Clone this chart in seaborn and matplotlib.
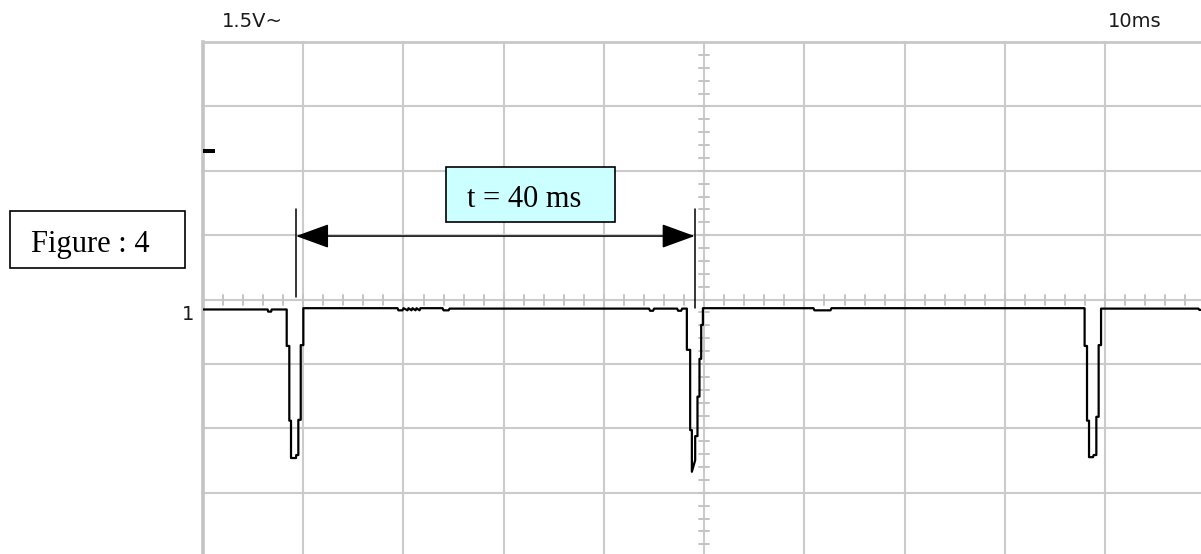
import numpy as np
import matplotlib
matplotlib.use("Agg")
import matplotlib.pyplot as plt
import seaborn as sns
from matplotlib.patches import Rectangle
import pandas as pd

# ---------------- data (time in ms, voltage in V) ----------------
time_ms = [0.0, 6.45, 6.5, 6.8, 6.85,
           8.35, 8.35, 8.61, 8.61, 8.78, 8.78, 9.28, 9.30, 9.51, 9.51, 9.75, 9.75, 10.01, 10.01,
           19.4, 19.5, 19.9, 20.0, 20.4, 20.5, 20.8, 20.9, 21.2, 21.3, 21.6, 21.7, 23.9, 24.0, 24.5, 24.6, 27.0,
           44.5, 44.6, 44.9, 45.0, 47.3, 47.4, 47.7, 47.8,
           48.27, 48.27, 48.60, 48.60, 48.77, 48.77, 49.10, 49.10, 49.33, 49.33, 49.53, 49.53, 49.70, 49.70, 49.87, 49.87,
           60.9, 61.0, 62.6, 62.7,
           87.95, 87.95, 88.19, 88.19, 88.39, 88.39, 88.79, 88.85, 89.12, 89.12, 89.35, 89.35, 89.59, 89.59,
           99.3, 99.4, 100.2]
volts = [-0.23, -0.23, -0.28, -0.28, -0.23,
         -0.23, -1.08, -1.08, -2.82, -2.82, -3.69, -3.69, -3.62, -3.62, -2.80, -2.80, -1.06, -1.06, -0.20,
         -0.20, -0.25, -0.25, -0.20, -0.25, -0.20, -0.25, -0.20, -0.25, -0.20, -0.25, -0.20, -0.20, -0.25, -0.25, -0.21, -0.21,
         -0.21, -0.26, -0.26, -0.21, -0.21, -0.26, -0.26, -0.21,
         -0.21, -1.17, -1.17, -3.04, -3.04, -4.01, -3.74, -3.18, -3.18, -2.26, -2.26, -1.38, -1.38, -0.59, -0.59, -0.20,
         -0.20, -0.25, -0.25, -0.20,
         -0.20, -1.08, -1.08, -2.82, -2.82, -3.67, -3.67, -3.62, -3.62, -2.73, -2.73, -1.06, -1.06, -0.21,
         -0.21, -0.24, -0.24]

# scope settings
volts_per_div = 1.5
ms_per_div = 10
n_xdiv = 10
n_ydiv = 8
scale_label = "1.5V~"
time_label = "10ms"
channel_label = "1"
trigger_level = 3.45
period_label = "t = 40 ms"
figure_label = "Figure : 4"
period_start = 9.28
period_end = 49.05
arrow_level = 1.48
marker_top = 2.11
marker1_bottom = 0.06
marker2_bottom = -0.20

# ---------------- figure ----------------
W, H = 1201, 554
sns.set_theme(style="white")
plt.rcParams['font.family'] = ['DejaVu Sans']
fig = plt.figure(figsize=(W / 100, H / 100), dpi=100)

def fx(px):
    return px / W

def fy(py):
    return 1 - py / H

left_px, right_px, top_px, bottom_px = 203, 1205.4, 42, 557.2
ax = fig.add_axes([fx(left_px), fy(bottom_px), fx(right_px - left_px), (bottom_px - top_px) / H])

ax.set_xlim(0, n_xdiv * ms_per_div)
ax.set_ylim(-n_ydiv / 2 * volts_per_div, n_ydiv / 2 * volts_per_div)
ax.set_xticks(np.arange(0, n_xdiv * ms_per_div + 0.01, ms_per_div))
ax.set_yticks(np.arange(-n_ydiv / 2 * volts_per_div, n_ydiv / 2 * volts_per_div + 0.01, volts_per_div))
ax.set_xticklabels([])
ax.set_yticklabels([])
ax.tick_params(length=0)
ax.grid(True, color="#cbcbcb", lw=1.5)
ax.set_axisbelow(True)
for s in ["right", "bottom"]:
    ax.spines[s].set_visible(False)
ax.spines["left"].set_color("#c4c4c4")
ax.spines["left"].set_linewidth(2.6)
ax.spines["top"].set_color("#c8c8c8")
ax.spines["top"].set_linewidth(2.0)

# minor ticks on centre cross
xc = n_xdiv * ms_per_div / 2
dy = 5 / 42.93
dx = 5 / 10.02
for x in np.arange(0, n_xdiv * ms_per_div + 0.01, ms_per_div / 5):
    ax.plot([x, x], [-dy, dy], color="#c4c4c4", lw=1.4, zorder=1)
for y in np.arange(-n_ydiv / 2 * volts_per_div, n_ydiv / 2 * volts_per_div + 0.01, volts_per_div / 5):
    ax.plot([xc - dx, xc + dx], [y, y], color="#c4c4c4", lw=1.4, zorder=1)

# trace
df = pd.DataFrame({"t": time_ms, "v": volts})
sns.lineplot(data=df, x="t", y="v", estimator=None, sort=False, color="black", lw=1.6, ax=ax, zorder=5)
ax.set_xlabel("")
ax.set_ylabel("")

# trigger marker
ax.plot([0, 1.15], [trigger_level, trigger_level], color="black", lw=2.9, solid_capstyle="butt", clip_on=False, zorder=6)

# period markers
ax.plot([period_start, period_start], [marker1_bottom, marker_top], color="black", lw=1.1, zorder=6)
ax.plot([period_end + 0.05, period_end + 0.05], [marker2_bottom, marker_top], color="black", lw=1.1, zorder=6)
ax.annotate("", xy=(period_start, arrow_level), xytext=(period_end, arrow_level),
            arrowprops=dict(arrowstyle="<|-|>,head_length=20.9,head_width=7.6", mutation_scale=1,
                            shrinkA=0, shrinkB=0, color="black", lw=1.1), zorder=6)

# header texts
fig.text(fx(222), fy(27), scale_label, fontsize=14, color="#1a1a1a", ha="left", va="baseline")
fig.text(fx(1108), fy(27), time_label, fontsize=14, color="#1a1a1a", ha="left", va="baseline")
fig.text(fx(182), fy(320), channel_label, fontsize=14, color="#1a1a1a", ha="left", va="baseline")

# boxes
serif = ["Liberation Serif", "DejaVu Serif"]
fig.add_artist(Rectangle((fx(10), fy(268)), fx(175), (268 - 211) / H, transform=fig.transFigure,
                         facecolor="white", edgecolor="black", lw=1.2))
fig.text(fx(31), fy(252), figure_label, fontsize=22, family=serif, color="black", ha="left", va="baseline")

fig.add_artist(Rectangle((fx(446), fy(222)), fx(169), (222 - 167) / H, transform=fig.transFigure,
                         facecolor="#ccffff", edgecolor="black", lw=1.2, zorder=7))
fig.text(fx(467), fy(207), period_label, fontsize=22, family=serif, color="black", ha="left", va="baseline", zorder=8)

fig.savefig("out.png", dpi=100)
